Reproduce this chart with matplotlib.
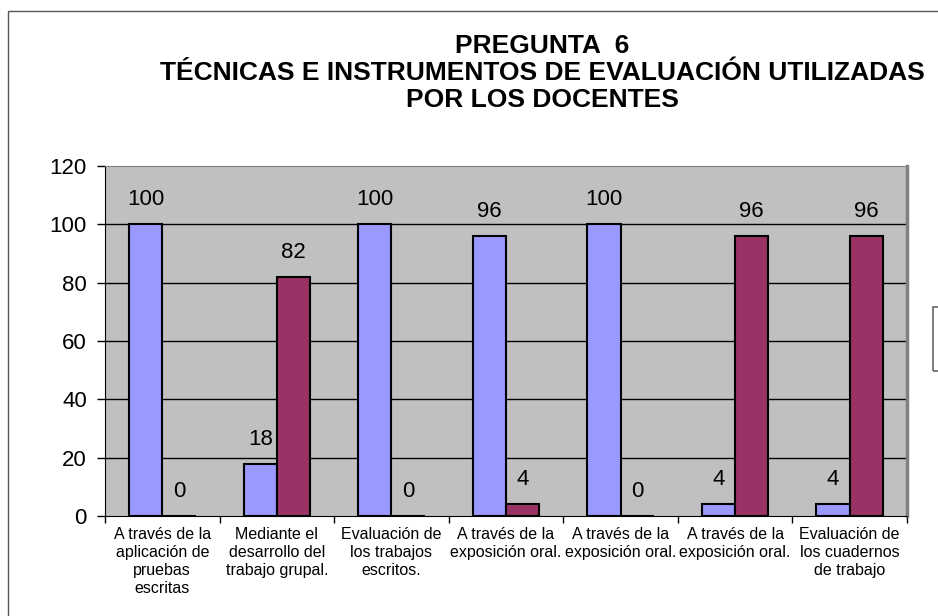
import matplotlib

matplotlib.use("Agg")
import matplotlib.pyplot as plt
import numpy as np
from matplotlib.patches import Rectangle

plt.rcParams["font.family"] = ["Liberation Sans", "DejaVu Sans"]

# data
categories = [
    "A través de la\naplicación de\npruebas\nescritas",
    "Mediante el\ndesarrollo del\ntrabajo grupal.",
    "Evaluación de\nlos trabajos\nescritos.",
    "A través de la\nexposición oral.",
    "A través de la\nexposición oral.",
    "A través de la\nexposición oral.",
    "Evaluación de\nlos cuadernos\nde trabajo",
]
serie_si = [100, 18, 100, 96, 100, 4, 4]
serie_no = [0, 82, 0, 4, 0, 96, 96]
y_ticks = [0, 20, 40, 60, 80, 100, 120]

fig = plt.figure(figsize=(9.38, 6.16), dpi=100)
ax = fig.add_axes([105 / 938, 100 / 616, 802 / 938, 350 / 616])
ax.set_facecolor("#C0C0C0")

x = np.arange(len(categories))
w = 0.29
b1 = ax.bar(x - w / 2, serie_si, w, color="#9999FF", edgecolor="black", linewidth=1.5, zorder=3)
b2 = ax.bar(x + w / 2, serie_no, w, color="#993366", edgecolor="black", linewidth=1.5, zorder=3)

for bars, vals in ((b1, serie_si), (b2, serie_no)):
    for rect, v in zip(bars, vals):
        ax.annotate(str(v), (rect.get_x() + rect.get_width() / 2, v),
                    xytext=(0, 10), textcoords="offset points",
                    ha="center", va="bottom", fontsize=16, zorder=4)

ax.set_xlim(-0.5, len(categories) - 0.5)
ax.set_ylim(0, 120)
ax.set_yticks(y_ticks)
ax.tick_params(axis="y", labelsize=16, length=6, width=1, pad=7)
for yv in y_ticks[1:-1]:
    ax.axhline(yv, color="black", linewidth=1, zorder=1)

# category labels centred, tick marks on the category boundaries
ax.set_xticks(x)
ax.set_xticklabels(categories, fontsize=11.5, linespacing=1.25)
ax.tick_params(axis="x", length=0, pad=8)
ax.set_xticks(np.arange(len(categories) + 1) - 0.5, minor=True)
ax.tick_params(axis="x", which="minor", length=5, width=1)

ax.spines["left"].set_color("black")
ax.spines["bottom"].set_color("black")
ax.spines["top"].set_color("#808080")
ax.spines["right"].set_color("#808080")
ax.spines["right"].set_linewidth(2.5)

fig.text(542 / 938, 1 - 73 / 616,
         "PREGUNTA  6\nTÉCNICAS E INSTRUMENTOS DE EVALUACIÓN UTILIZADAS\nPOR LOS DOCENTES",
         ha="center", va="center", fontsize=19, fontweight="bold", linespacing=1.15)

# outer chart frame and the clipped legend box
fig.patches.append(Rectangle((8 / 938, -0.1), 2, 0.1 + (616 - 11) / 616,
                             transform=fig.transFigure, fill=False,
                             edgecolor="#555555", linewidth=1))
fig.patches.append(Rectangle((933 / 938, 1 - 371 / 616), 0.1, 64 / 616,
                             transform=fig.transFigure, fill=False,
                             edgecolor="#666666", linewidth=1.2))

fig.savefig("out.png", dpi=100)
